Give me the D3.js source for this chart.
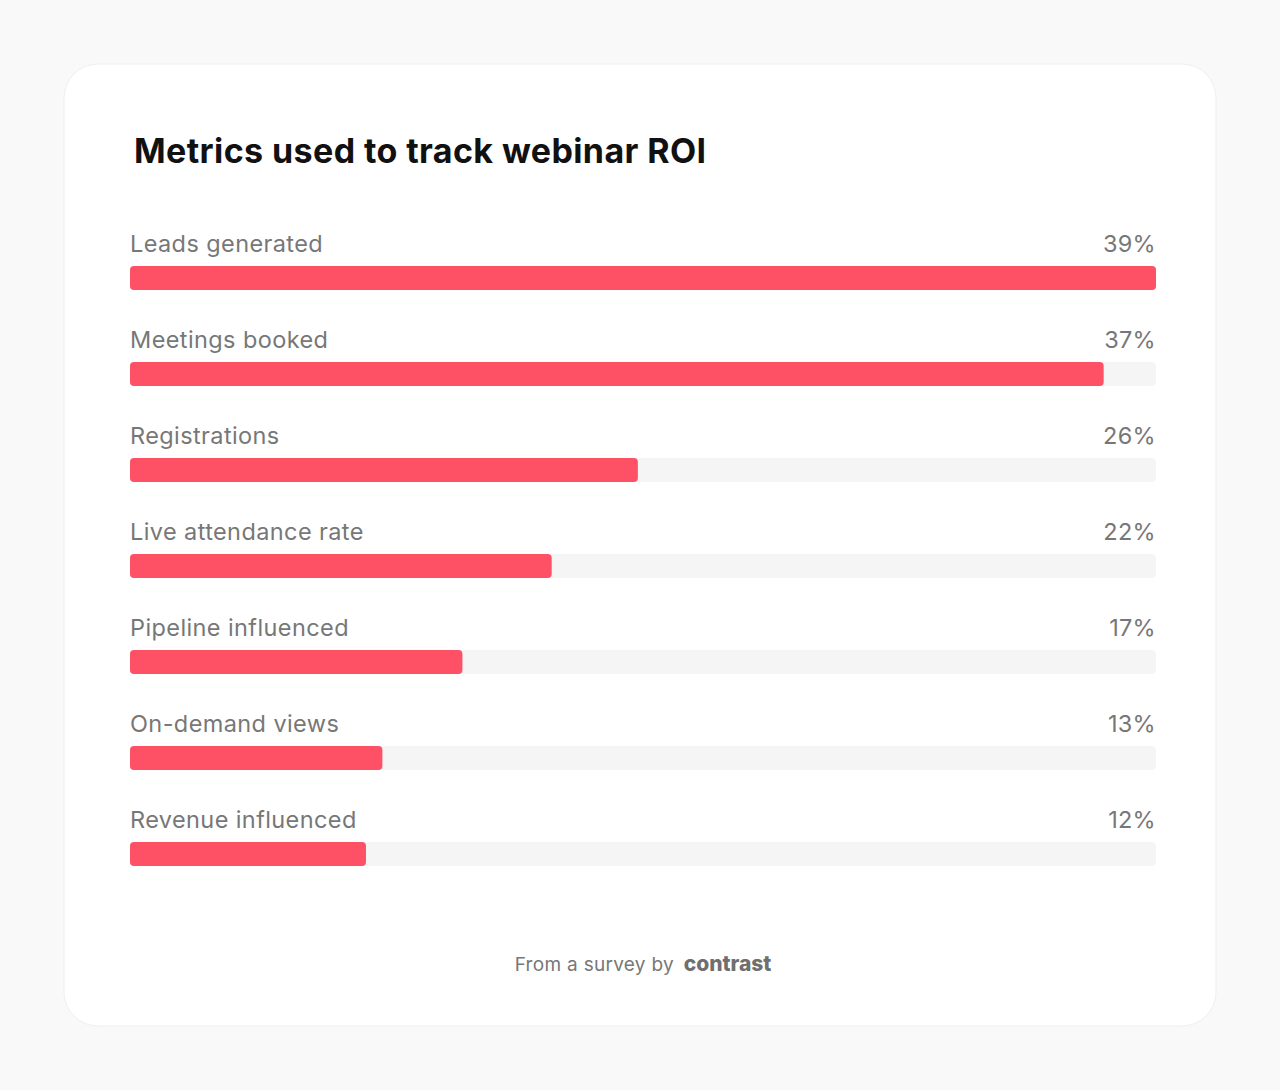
<!DOCTYPE html>
<html><head><meta charset="utf-8">
<script src="https://cdn.jsdelivr.net/npm/d3@7"></script>
<style>body{margin:0;background:#f9f9f9;}</style>
</head><body>
<script>
const categories = ['Leads generated', 'Meetings booked', 'Registrations', 'Live attendance rate', 'Pipeline influenced', 'On-demand views', 'Revenue influenced'];
const shares = [39, 37, 26, 22, 17, 13, 12];
// bar lengths as drawn in the picture (share of track, %)
const barLengths = [100, 94.9, 49.5, 41.1, 32.4, 24.6, 23];

const W = 1280, H = 1090;
const svg = d3.select('body').append('svg').attr('width', W).attr('height', H);
svg.append('rect').attr('width', W).attr('height', H).attr('fill', '#f9f9f9');
svg.append('rect').attr('x', 64).attr('y', 64).attr('width', 1152).attr('height', 962)
    .attr('rx', 34).attr('fill', '#fff').attr('stroke', '#efefef');

svg.append('text').attr('x', 134).attr('y', 163).text('Metrics used to track webinar ROI')
    .attr('font-family', 'Inter, sans-serif').attr('font-weight', 700).attr('font-size', 34)
    .attr('letter-spacing', 0.4).attr('fill', '#111');

const x = d3.scaleLinear().domain([0, 100]).range([130, 1156]);
const y = d3.scaleBand().domain(categories).range([234, 906]);

const row = svg.selectAll('g.row').data(categories).join('g').attr('class', 'row')
    .attr('transform', d => `translate(0,${y(d)})`);
row.append('text').attr('x', 130).attr('y', 18).text(d => d)
    .attr('font-family', 'Inter, sans-serif').attr('font-size', 23.5).attr('letter-spacing', 0.4).attr('fill', '#777');
row.append('text').attr('x', 1156).attr('y', 18).attr('text-anchor', 'end').text((d, i) => shares[i] + '%')
    .attr('font-family', 'Inter, sans-serif').attr('font-size', 23.5).attr('letter-spacing', 0.3).attr('fill', '#777');
row.append('rect').attr('x', x(0)).attr('y', 32).attr('width', x(100) - x(0)).attr('height', 24)
    .attr('rx', 4).attr('fill', '#f5f5f5');
row.append('rect').attr('x', x(0)).attr('y', 32).attr('width', (d, i) => x(barLengths[i]) - x(0)).attr('height', 24)
    .attr('rx', 4).attr('fill', '#ff5166');

const foot = svg.append('text').attr('x', 643).attr('y', 971).attr('text-anchor', 'middle')
    .attr('font-family', 'Inter, sans-serif').attr('fill', '#777');
foot.append('tspan').attr('font-size', 19).attr('letter-spacing', 0.3).text('From a survey by ');
foot.append('tspan').attr('font-size', 21).attr('font-weight', 800).attr('fill', '#6f6f6f').attr('dx', 4).text('contrast');
</script>
</body></html>
